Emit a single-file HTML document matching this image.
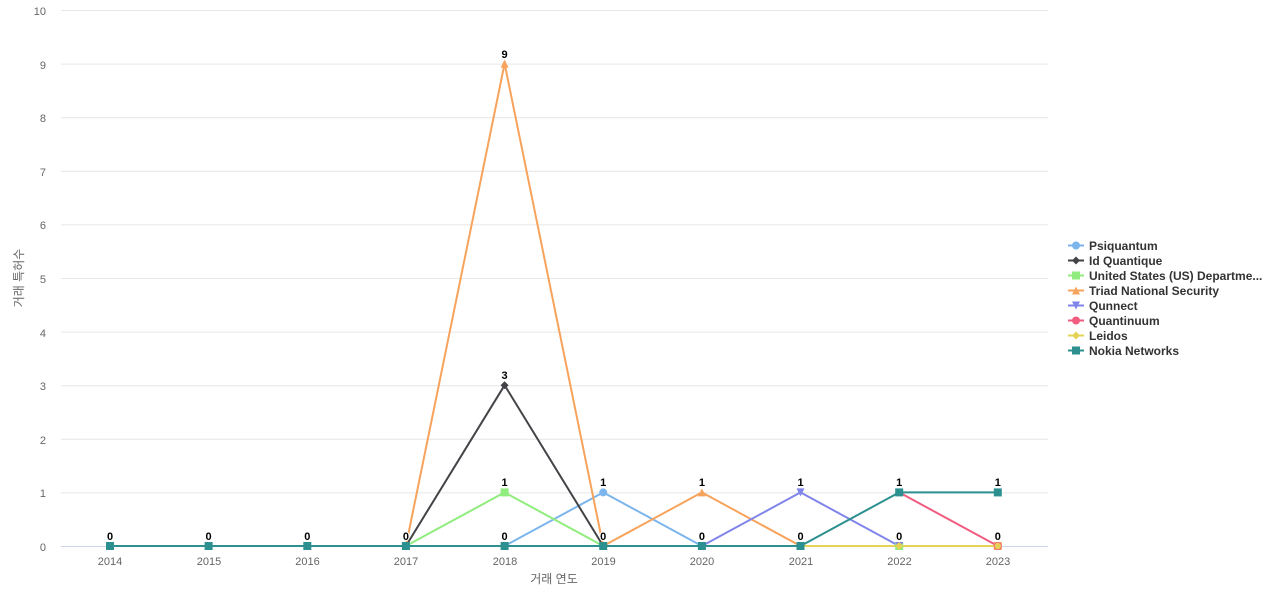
<!DOCTYPE html>
<html><head><meta charset="utf-8"><style>
html,body{margin:0;padding:0;background:#fff;}
svg{display:block;font-family:"Liberation Sans","Noto Sans CJK KR",sans-serif;}
.yl{font-size:11px;fill:#666;text-anchor:end;}
.xl{font-size:11px;fill:#666;text-anchor:middle;}
.dl{font-size:11px;font-weight:bold;fill:#000;text-anchor:middle;stroke:#fff;stroke-width:2px;paint-order:stroke;stroke-linejoin:round;}
.lg{font-size:12px;font-weight:bold;fill:#333;}
</style></head><body>
<svg width="1280" height="600" viewBox="0 0 1280 600" xmlns="http://www.w3.org/2000/svg">
<g stroke="#e6e6e6" stroke-width="1">
<line x1="61" x2="1048" y1="10.5" y2="10.5"/>
<line x1="61" x2="1048" y1="64.1" y2="64.1"/>
<line x1="61" x2="1048" y1="117.7" y2="117.7"/>
<line x1="61" x2="1048" y1="171.3" y2="171.3"/>
<line x1="61" x2="1048" y1="224.9" y2="224.9"/>
<line x1="61" x2="1048" y1="278.5" y2="278.5"/>
<line x1="61" x2="1048" y1="332.1" y2="332.1"/>
<line x1="61" x2="1048" y1="385.7" y2="385.7"/>
<line x1="61" x2="1048" y1="439.3" y2="439.3"/>
<line x1="61" x2="1048" y1="492.9" y2="492.9"/>
</g>
<line x1="61" x2="1048" y1="546.5" y2="546.5" stroke="#ccd6eb" stroke-width="1"/>
<g class="yl">
<text x="46" y="15">10</text>
<text x="46" y="69">9</text>
<text x="46" y="122">8</text>
<text x="46" y="176">7</text>
<text x="46" y="229">6</text>
<text x="46" y="283">5</text>
<text x="46" y="337">4</text>
<text x="46" y="390">3</text>
<text x="46" y="444">2</text>
<text x="46" y="497">1</text>
<text x="46" y="551">0</text>
</g>
<g class="xl">
<text x="110" y="565">2014</text>
<text x="209" y="565">2015</text>
<text x="307.5" y="565">2016</text>
<text x="406" y="565">2017</text>
<text x="505" y="565">2018</text>
<text x="603.5" y="565">2019</text>
<text x="702" y="565">2020</text>
<text x="801" y="565">2021</text>
<text x="899.5" y="565">2022</text>
<text x="998" y="565">2023</text>
</g>
<text x="554" y="583" style="font-size:12px;fill:#666;text-anchor:middle">거래 연도</text>
<text transform="translate(23,278) rotate(-90)" style="font-size:12px;fill:#666;text-anchor:middle">거래 특허수</text>

<g fill="none" stroke-width="2" stroke-linejoin="round" stroke-linecap="round">
<!-- Psiquantum -->
<polyline stroke="#7cb5ec" points="504.6,546 603.2,492.4 701.9,546 800.5,546 899.2,546 997.8,546"/>
<!-- Id Quantique -->
<polyline stroke="#434348" points="405.9,546 504.6,385.2 603.2,546"/>
<!-- US Dept -->
<polyline stroke="#90ed7d" points="405.9,546 504.6,492.4 603.2,546"/>
<!-- Triad -->
<polyline stroke="#f7a35c" points="405.9,546 504.6,63.6 603.2,546 701.9,492.4 800.5,546"/>
<!-- Qunnect -->
<polyline stroke="#8085e9" points="701.9,546 800.5,492.4 899.2,546"/>
<!-- Quantinuum -->
<polyline stroke="#f15c80" points="899.2,492.4 997.8,546"/>
<!-- Leidos -->
<polyline stroke="#e4d354" points="800.5,546 899.2,546 997.8,546"/>
<!-- Nokia -->
<polyline stroke="#2b908f" points="110,546 208.6,546 307.3,546 405.9,546 504.6,546 603.2,546 701.9,546 800.5,546 899.2,492.4 997.8,492.4"/>
</g>

<!-- markers -->
<g>
<circle cx="603.2" cy="492.4" r="4" fill="#7cb5ec"/>
<circle cx="701.9" cy="546" r="4" fill="#7cb5ec"/>
<path d="M504.6,381.2 L508.6,385.2 L504.6,389.2 L500.6,385.2Z" fill="#434348"/>
<rect x="500.6" y="488.4" width="8" height="8" fill="#90ed7d"/>
<rect x="895.2" y="542" width="8" height="8" fill="#90ed7d"/>
<rect x="993.8" y="542" width="8" height="8" fill="#f7a35c"/>
<path d="M504.6,59.6 L508.6,67.6 L500.6,67.6Z" fill="#f7a35c"/>
<path d="M701.9,488.4 L705.9,496.4 L697.9,496.4Z" fill="#f7a35c"/>
<path d="M796.5,488.4 L804.5,488.4 L800.5,496.4Z" fill="#8085e9"/>
<path d="M895.2,542 L903.2,542 L899.2,550Z" fill="#8085e9"/>
<circle cx="997.8" cy="546" r="4" fill="#f15c80"/>
<path d="M899.2,542 L903.2,546 L899.2,550 L895.2,546Z" fill="#e4d354"/>
<circle cx="899.2" cy="546" r="3" fill="#e4d354"/>
<circle cx="997.8" cy="546" r="3.2" fill="#e4d354"/>
<g fill="#2b908f">
<rect x="106" y="542" width="8" height="8"/>
<rect x="204.6" y="542" width="8" height="8"/>
<rect x="303.3" y="542" width="8" height="8"/>
<rect x="401.9" y="542" width="8" height="8"/>
<rect x="500.6" y="542" width="8" height="8"/>
<rect x="599.2" y="542" width="8" height="8"/>
<rect x="697.9" y="542" width="8" height="8"/>
<rect x="796.5" y="542" width="8" height="8"/>
<rect x="895.2" y="488.4" width="8" height="8"/>
<rect x="993.8" y="488.4" width="8" height="8"/>
</g>
</g>

<!-- data labels -->
<g class="dl">
<text x="110" y="540">0</text>
<text x="208.6" y="540">0</text>
<text x="307.3" y="540">0</text>
<text x="405.9" y="540">0</text>
<text x="504.6" y="540">0</text>
<text x="603.2" y="540">0</text>
<text x="701.9" y="540">0</text>
<text x="800.5" y="540">0</text>
<text x="899.2" y="540">0</text>
<text x="997.8" y="540">0</text>
<text x="504.6" y="58">9</text>
<text x="504.6" y="379">3</text>
<text x="504.6" y="486">1</text>
<text x="603.2" y="486">1</text>
<text x="701.9" y="486">1</text>
<text x="800.5" y="486">1</text>
<text x="899.2" y="486">1</text>
<text x="997.8" y="486">1</text>
</g>

<!-- legend -->
<g stroke-width="2">
<line x1="1068" x2="1084" y1="245.5" y2="245.5" stroke="#7cb5ec"/>
<line x1="1068" x2="1084" y1="260.5" y2="260.5" stroke="#434348"/>
<line x1="1068" x2="1084" y1="275.5" y2="275.5" stroke="#90ed7d"/>
<line x1="1068" x2="1084" y1="290.5" y2="290.5" stroke="#f7a35c"/>
<line x1="1068" x2="1084" y1="305.5" y2="305.5" stroke="#8085e9"/>
<line x1="1068" x2="1084" y1="320.5" y2="320.5" stroke="#f15c80"/>
<line x1="1068" x2="1084" y1="335.5" y2="335.5" stroke="#e4d354"/>
<line x1="1068" x2="1084" y1="350.5" y2="350.5" stroke="#2b908f"/>
</g>
<circle cx="1076" cy="245.5" r="4" fill="#7cb5ec"/>
<path d="M1076,256.5 L1080,260.5 L1076,264.5 L1072,260.5Z" fill="#434348"/>
<rect x="1072" y="271.5" width="8" height="8" fill="#90ed7d"/>
<path d="M1076,286.5 L1080,294.5 L1072,294.5Z" fill="#f7a35c"/>
<path d="M1072,301.5 L1080,301.5 L1076,309.5Z" fill="#8085e9"/>
<circle cx="1076" cy="320.5" r="4" fill="#f15c80"/>
<path d="M1076,331.5 L1080,335.5 L1076,339.5 L1072,335.5Z" fill="#e4d354"/>
<rect x="1072" y="346.5" width="8" height="8" fill="#2b908f"/>
<g class="lg">
<text x="1089" y="250">Psiquantum</text>
<text x="1089" y="265">Id Quantique</text>
<text x="1089" y="280">United States (US) Departme...</text>
<text x="1089" y="295">Triad National Security</text>
<text x="1089" y="310">Qunnect</text>
<text x="1089" y="325">Quantinuum</text>
<text x="1089" y="340">Leidos</text>
<text x="1089" y="355">Nokia Networks</text>
</g>
</svg>
</body></html>
